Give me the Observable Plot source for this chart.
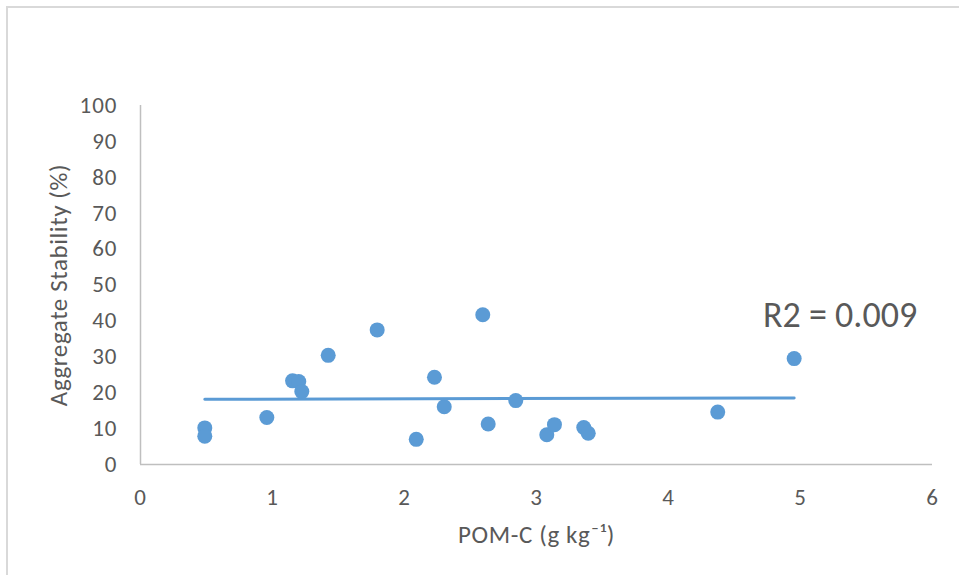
<!DOCTYPE html>
<html>
<head>
<meta charset="utf-8">
<script src="https://cdn.jsdelivr.net/npm/d3@7"></script>
<script src="https://cdn.jsdelivr.net/npm/@observablehq/plot@0.6"></script>
<style>
  html, body { margin: 0; padding: 0; background: #fff; }
  #wrap { position: relative; width: 959px; height: 575px; overflow: hidden; }
  #frame { position: absolute; left: 6px; top: 6px; width: 1000px; height: 1000px;
           border-left: 2px solid #d9d9d9; border-top: 2px solid #d9d9d9; pointer-events: none; }
  #chart { position: absolute; left: 0; top: 0; }
  #chart g[aria-label="x-axis tick label"] text,
  #chart g[aria-label="y-axis tick label"] text { letter-spacing: 1px; }
  #chart g[aria-label="text"] text { letter-spacing: 0.6px; }
  #chart g[aria-label="text"].r2 text { letter-spacing: 0; }
</style>
</head>
<body>
<div id="wrap"><div id="chart"></div><div id="frame"></div></div>
<script>
// POM-C (g kg-1)
const pomC = [0.487, 0.487, 0.957, 1.152, 1.199, 1.222, 1.422, 1.793, 2.089, 2.227,
              2.301, 2.593, 2.634, 2.843, 3.078, 3.136, 3.358, 3.392, 4.373, 4.952];
// Aggregate stability (%)
const aggStab = [10.2, 7.9, 13.1, 23.3, 23.1, 20.3, 30.4, 37.5, 7.0, 24.3,
                 16.1, 41.7, 11.3, 17.8, 8.3, 11.1, 10.3, 8.7, 14.6, 29.5];
const xTicks = [0, 1, 2, 3, 4, 5, 6];
const yTicks = [0, 10, 20, 30, 40, 50, 60, 70, 80, 90, 100];
const xTitle = ["POM-C (g kg⁻¹)"];
const yTitle = ["Aggregate Stability (%)"];
const r2Text = ["R2 = 0.009"];
const r2X = [5.3];
const r2Y = [38.2];

const data = pomC.map((x, i) => ({x, y: aggStab[i]}));
const blue = "#5b9bd5";
const grey = "#595959";
const axisGrey = "#bfbfbf";

const chart = Plot.plot({
  width: 959,
  height: 575,
  marginLeft: 140,
  marginRight: 27,
  marginTop: 105,
  marginBottom: 111,
  style: { fontFamily: "Carlito, Calibri, Lato, sans-serif", background: "transparent" },
  x: { domain: [0, 6] },
  y: { domain: [0, 100] },
  marks: [
    Plot.ruleY([0], { stroke: axisGrey, strokeWidth: 1.5 }),
    Plot.ruleX([0], { stroke: axisGrey, strokeWidth: 1.5 }),
    Plot.axisX({ ticks: xTicks, tickFormat: d3.format("d"), tickSize: 0, tickPadding: 24,
                 fontSize: 23, fill: grey, label: null }),
    Plot.axisY({ ticks: yTicks, tickFormat: d3.format("d"), tickSize: 0, tickPadding: 23,
                 fontSize: 23, fill: grey, label: null }),
    Plot.text(xTitle, { text: d => d, frameAnchor: "bottom", dy: 70, fontSize: 25,
                        fill: grey, lineAnchor: "middle", textAnchor: "middle" }),
    Plot.text(yTitle, { text: d => d, frameAnchor: "left", dx: -82, rotate: -90, fontSize: 25,
                        fill: grey, lineAnchor: "middle", textAnchor: "middle" }),
    Plot.linearRegressionY(data, { x: "x", y: "y", ci: 0, stroke: blue, strokeWidth: 3 }),
    Plot.dot(data, { x: "x", y: "y", r: 7.5, fill: blue, stroke: "none" }),
    Plot.text(r2Text, { x: r2X, y: r2Y, text: d => d, fontSize: 36, fill: grey,
                        textAnchor: "middle", lineAnchor: "bottom", className: "r2" })
  ]
});
const r2g = chart.querySelectorAll('g[aria-label="text"]');
if (r2g.length) r2g[r2g.length - 1].classList.add("r2");
document.getElementById("chart").appendChild(chart);
</script>
</body>
</html>
